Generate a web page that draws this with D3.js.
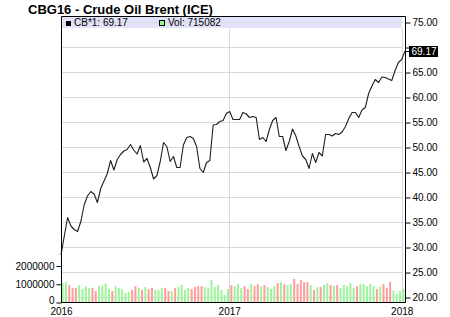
<!DOCTYPE html>
<html>
<head>
<meta charset="utf-8">
<script src="https://cdn.jsdelivr.net/npm/d3@7"></script>
<style>
  body { margin: 0; background: #fff; }
  svg { display: block; font-family: "Liberation Sans", Arial, sans-serif; }
</style>
</head>
<body>
<svg id="chart" width="450" height="317"></svg>
<script>
// Weekly closes of CB*1 (Brent front month), mid Jan 2016 -> early Jan 2018
var closes = [
  28.4, 32.2, 35.9, 34.2, 33.5, 33.1, 35.1, 38.4, 40.2, 41.1,
  40.6, 38.9, 41.7, 43.2, 44.7, 47.3, 45.4, 47.5, 48.5, 49.2,
  49.5, 50.5, 49.4, 48.6, 50.3, 47.0, 47.7, 45.9, 43.6, 44.3,
  47.1, 50.9, 50.1, 47.1, 48.1, 45.9, 45.9, 50.4, 51.9, 52.1,
  51.7, 50.1, 45.7, 44.9, 46.9, 47.3, 54.4, 54.5, 55.1, 55.3,
  56.7, 57.1, 55.5, 55.5, 55.5, 56.9, 56.6, 55.9, 56.1, 55.9,
  51.5, 51.9, 51.1, 53.5, 55.3, 55.9, 52.1, 52.1, 49.3, 51.1,
  53.6, 52.2, 50.1, 48.2, 47.5, 45.7, 48.7, 46.9, 48.9, 48.2,
  52.5, 52.5, 52.2, 52.7, 52.5, 53.0, 54.1, 55.7, 56.9, 56.9,
  55.9, 57.4, 57.9, 60.7, 62.2, 63.5, 62.9, 64.0, 63.9, 63.6,
  63.3, 65.3, 66.9, 67.5, 69.17
]

// Weekly volume, one bar for every week after the first one
var volumes = [
  1050000, 1090000, 930000, 770000, 770000, 930000, 710000, 870000, 770000, 770000,
  600000, 870000, 870000, 1020000, 710000, 600000, 870000, 770000, 710000, 490000,
  550000, 660000, 870000, 770000, 660000, 820000,
  710000, 770000, 660000, 660000, 770000, 770000, 600000, 600000, 770000, 820000,
  930000, 660000, 770000, 710000, 820000, 870000, 870000, 820000, 770000, 1200000,
  820000, 930000, 660000, 380000, 710000, 930000,
  870000, 980000, 770000, 870000, 710000, 980000, 870000, 980000, 870000, 930000,
  820000, 710000, 870000, 1040000, 1090000, 980000, 930000, 980000, 1260000, 980000,
  1200000, 1090000, 1090000, 930000, 660000, 820000, 820000,
  930000, 1020000, 930000, 870000, 930000, 770000, 930000, 870000, 1040000, 770000,
  870000, 980000, 980000, 870000, 980000, 870000, 710000,
  840000, 980000, 770000, 1110000, 620000, 440000, 620000, 715082
]

var yearLabels = ["2016", "2017", "2018"]
var priceTicks = [20, 25, 30, 35, 40, 45, 50, 55, 60, 65, 70, 75]
var volTicks = [0, 1000000, 2000000]

var weeks = d3.timeMonday.range(new Date(2016, 0, 11), new Date(2018, 0, 9))
var yearDates = [weeks[0], new Date(2017, 0, 1), new Date(2018, 0, 1)]

// Setup: dimensions (plot frame)
var plotLeft = 61, plotRight = 405, plotTop = 16, plotBottom = 302

var svg = d3.select("#chart")

var x = d3.scaleTime()
    .domain([weeks[0], weeks[weeks.length - 1]])
    .range([plotLeft, plotRight])

var yP = d3.scaleLinear()
    .domain([20, 75])
    .range([297, 22])

var yV = d3.scaleLinear()
    .domain([0, 2000000])
    .range([plotBottom, 265.5])

var lastClose = closes[closes.length - 1]
var lastVol = volumes[volumes.length - 1]

svg.append("rect")
    .attr("width", 450).attr("height", 317).attr("fill", "#fff")

// Legend band
svg.append("rect")
    .attr("x", plotLeft).attr("y", plotTop + 1)
    .attr("width", 402 - plotLeft).attr("height", 11)
    .attr("fill", "#e2e2fa")

// Grid
svg.append("g").selectAll("line")
  .data(priceTicks)
  .enter().append("line")
    .attr("x1", plotLeft).attr("x2", 403)
    .attr("y1", function(d) { return Math.round(yP(d)) + 0.5 })
    .attr("y2", function(d) { return Math.round(yP(d)) + 0.5 })
    .attr("stroke", "#d9d9d9")

svg.append("g").selectAll("line")
  .data(yearDates.slice(1))
  .enter().append("line")
    .attr("x1", function(d) { return Math.round(x(d)) + 0.5 })
    .attr("x2", function(d) { return Math.round(x(d)) + 0.5 })
    .attr("y1", plotTop + 12).attr("y2", plotBottom)
    .attr("stroke", "#d9d9d9")

// Volume bars, sitting between two weekly closes
svg.append("g").selectAll("rect")
  .data(volumes)
  .enter().append("rect")
    .attr("x", function(d, i) { return (x(weeks[i]) + x(weeks[i + 1])) / 2 - 1 })
    .attr("y", function(d) { return yV(d) })
    .attr("width", 2)
    .attr("height", function(d) { return plotBottom - yV(d) })
    .attr("fill", function(d, i) { return closes[i + 1] >= closes[i] ? "#9ef49a" : "#ff9d9d" })

// Price line
var line = d3.line()
    .x(function(d, i) { return x(weeks[i]) })
    .y(function(d) { return yP(d) })

svg.append("path")
    .datum(closes)
    .attr("fill", "none")
    .attr("stroke", "#1e1e1e")
    .attr("stroke-width", 1.1)
    .attr("stroke-linejoin", "round")
    .attr("d", line)

// Frame
svg.append("path")
    .attr("fill", "none")
    .attr("stroke", "#000")
    .attr("d", "M" + (plotLeft + 0.5) + "," + (plotBottom + 0.5) +
               "V" + (plotTop + 0.5) + "H" + (plotRight + 0.5) +
               "V" + (plotBottom + 0.5) + "H" + (plotLeft + 0.5))

// Axes
var fmt = d3.format(".2f")
var priceAxis = svg.append("g")
    .attr("transform", "translate(" + (plotRight + 0.5) + ",0.5)")
    .call(d3.axisRight(yP)
      .tickValues(priceTicks)
      .tickSize(5)
      .tickPadding(2)
      .tickFormat(function(d) { return Math.abs(yP(d) - yP(lastClose)) < 7 ? "" : fmt(d) }))
priceAxis.select(".domain").remove()

var volAxis = svg.append("g")
    .attr("transform", "translate(" + (plotLeft + 0.5) + ",0.5)")
    .call(d3.axisLeft(yV)
      .tickValues(volTicks)
      .tickSize(5)
      .tickPadding(2)
      .tickFormat(d3.format("d")))
volAxis.select(".domain").remove()
// the zero label sits right above the year labels, lift it a touch
volAxis.selectAll(".tick text")
    .filter(function(d) { return d === 0 })
    .attr("y", -2.5)

var timeAxis = svg.append("g")
    .attr("transform", "translate(0," + (plotBottom + 0.5) + ")")
    .call(d3.axisBottom(x)
      .tickValues(yearDates)
      .tickSize(0)
      .tickPadding(5)
      .tickFormat(function(d, i) { return yearLabels[i] }))
timeAxis.select(".domain").remove()

svg.selectAll(".tick text")
    .attr("font-family", "'Liberation Sans', Arial, sans-serif")
    .attr("font-size", "10px")
    .attr("fill", "#000")

// Last price marker
var yl = Math.round(yP(lastClose))
svg.append("line")
    .attr("x1", plotRight).attr("x2", plotRight + 5)
    .attr("y1", yl + 0.5).attr("y2", yl + 0.5)
    .attr("stroke", "#000")
svg.append("rect")
    .attr("x", plotRight + 4).attr("y", yl - 5)
    .attr("width", 29).attr("height", 11)
    .attr("fill", "#000")
svg.append("text")
    .attr("x", plotRight + 6.5).attr("y", yl + 4)
    .attr("font-size", "10px")
    .attr("fill", "#fff")
    .text(fmt(lastClose))

// Title
svg.append("text")
    .attr("x", 28).attr("y", 14)
    .attr("font-size", "13px")
    .attr("font-weight", "bold")
    .attr("fill", "#000")
    .text("CBG16 - Crude Oil Brent (ICE)")

// Legend
svg.append("rect")
    .attr("x", 66).attr("y", 21).attr("width", 5).attr("height", 5)
    .attr("fill", "#000")
svg.append("text")
    .attr("x", 74).attr("y", 26)
    .attr("font-size", "10px")
    .text("CB*1: " + fmt(lastClose))
svg.append("rect")
    .attr("x", 159.5).attr("y", 20.5).attr("width", 5).attr("height", 5)
    .attr("fill", "#9ef49a").attr("stroke", "#000")
svg.append("text")
    .attr("x", 168).attr("y", 26)
    .attr("font-size", "10px")
    .text("Vol: " + lastVol)
</script>
</body>
</html>
